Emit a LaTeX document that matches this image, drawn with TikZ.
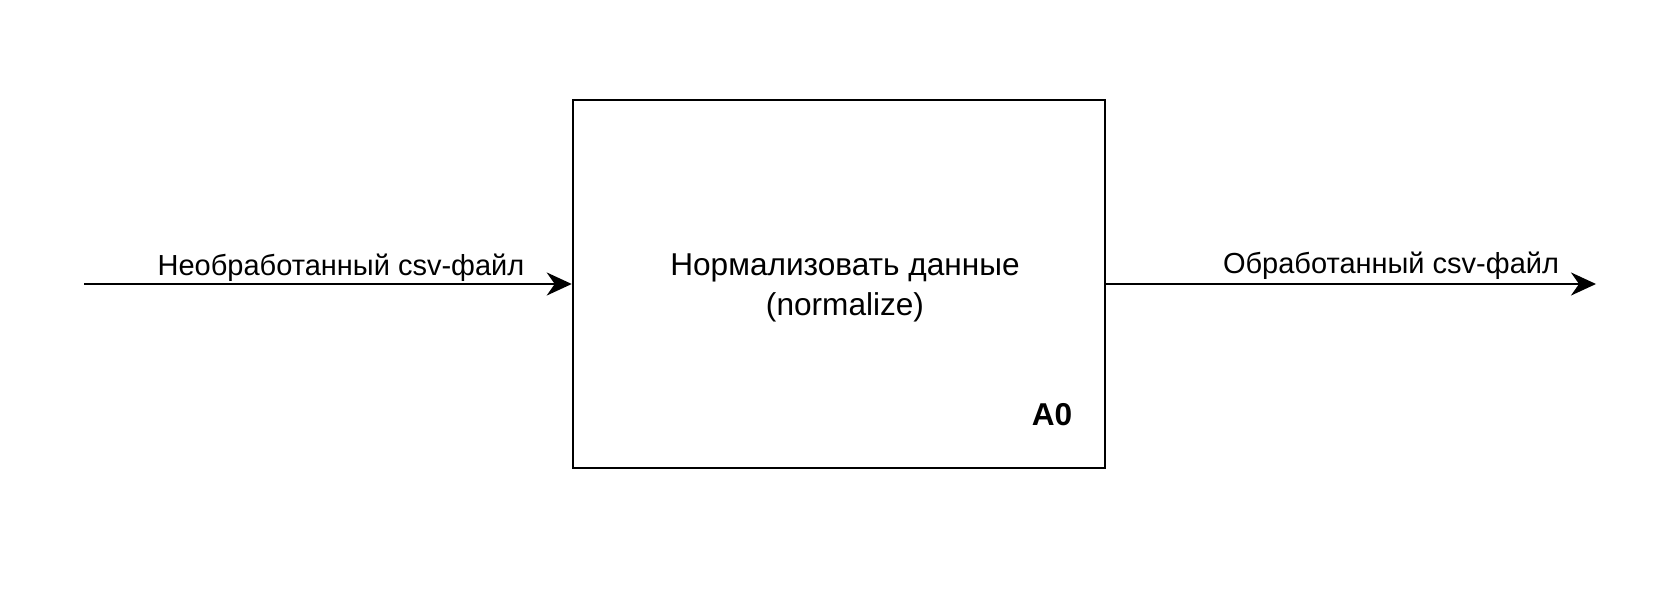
\documentclass[tikz,border=0pt]{standalone}
\usepackage{fontspec}
\setmainfont{Liberation Sans}
\usetikzlibrary{arrows.meta}

\begin{document}
\begin{tikzpicture}[x=0.5pt,y=-0.5pt,line width=1.25pt,
    >={Stealth[length=12.5pt,width=11.5pt,inset=4pt]},
    every node/.style={font=\fontsize{14.5pt}{20pt}\selectfont}]
  \useasboundingbox (0,0) rectangle (1680,604);
  \node[draw,minimum width=266pt,minimum height=184pt,inner sep=0pt] (F) at (839,284) {};
  \coordinate (In) at (84,284);
  \coordinate (Out) at (1596,284);
  \draw[->] (In) -- (F.west);
  \draw[->] (F.east) -- (Out);
  \node[anchor=base] (inLbl) at (341,276) {Необработанный csv-файл};
  \node[anchor=base] (outLbl) at (1391,273) {Обработанный csv-файл};
  \node[anchor=base,align=center,font=\fontsize{15.8pt}{20pt}\selectfont] (title) at (845,315) {Нормализовать данные\\(normalize)};
  \node[anchor=base,font=\fontsize{15.8pt}{20pt}\selectfont\bfseries] (num) at (1052,425) {A0};
\end{tikzpicture}
\end{document}
